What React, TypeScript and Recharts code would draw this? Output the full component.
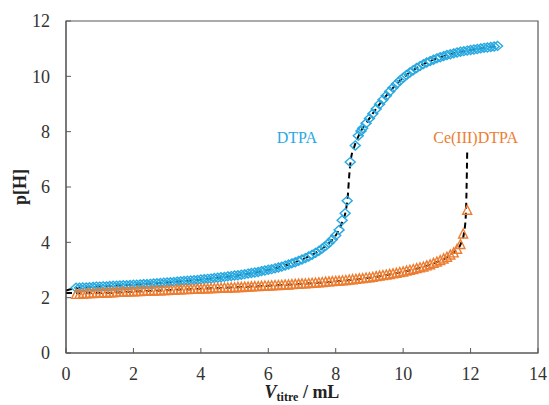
import React from "react";
import {
  ComposedChart,
  Line,
  Scatter,
  XAxis,
  YAxis,
  ReferenceArea,
  ReferenceDot,
} from "recharts";

// experimental points, DTPA (blue diamonds)
const dtpaVol = [
  0.3, 0.4, 0.5, 0.6, 0.7, 0.8, 0.9, 1.0, 1.1, 1.2, 1.3, 1.4, 1.5, 1.6, 1.7,
  1.8, 1.9, 2.0, 2.1, 2.2, 2.3, 2.4, 2.5, 2.6, 2.7, 2.8, 2.9, 3.0, 3.1, 3.2,
  3.3, 3.4, 3.5, 3.6, 3.7, 3.8, 3.9, 4.0, 4.1, 4.2, 4.3, 4.4, 4.5, 4.6, 4.7,
  4.8, 4.9, 5.0, 5.1, 5.2, 5.3, 5.4, 5.5, 5.6, 5.7, 5.8, 5.9, 6.0, 6.1, 6.2,
  6.3, 6.4, 6.5, 6.6, 6.7, 6.8, 6.9, 7.0, 7.1, 7.2, 7.3, 7.4, 7.5, 7.6, 7.7,
  7.8, 7.9, 8.0, 8.1, 8.19, 8.28, 8.34, 8.43, 8.58, 8.67, 8.75, 8.8, 8.9, 9.0,
  9.1, 9.2, 9.3, 9.4, 9.5, 9.6, 9.7, 9.8, 9.9, 10.0, 10.1, 10.2, 10.3, 10.4,
  10.5, 10.6, 10.7, 10.8, 10.9, 11.0, 11.1, 11.2, 11.3, 11.4, 11.5, 11.6,
  11.7, 11.8, 11.9, 12.0, 12.1, 12.2, 12.3, 12.4, 12.5, 12.6, 12.7, 12.8,
];
const dtpaPH = [
  2.36, 2.36, 2.37, 2.37, 2.38, 2.39, 2.4, 2.4, 2.41, 2.41, 2.42, 2.43, 2.43,
  2.44, 2.45, 2.45, 2.46, 2.47, 2.47, 2.48, 2.49, 2.49, 2.5, 2.51, 2.52, 2.53,
  2.54, 2.55, 2.56, 2.57, 2.58, 2.59, 2.6, 2.61, 2.62, 2.63, 2.64, 2.66, 2.67,
  2.68, 2.69, 2.71, 2.72, 2.74, 2.75, 2.77, 2.78, 2.8, 2.81, 2.83, 2.85, 2.87,
  2.89, 2.91, 2.93, 2.96, 2.98, 3.01, 3.03, 3.06, 3.09, 3.12, 3.16, 3.2, 3.24,
  3.28, 3.33, 3.38, 3.43, 3.49, 3.55, 3.62, 3.69, 3.78, 3.87, 3.98, 4.1, 4.25,
  4.45, 4.8, 5.05, 5.5, 6.9, 7.5, 7.85, 8.02, 8.12, 8.3, 8.48, 8.65, 8.82,
  8.99, 9.15, 9.3, 9.45, 9.59, 9.72, 9.84, 9.95, 10.05, 10.14, 10.22, 10.3,
  10.37, 10.44, 10.5, 10.55, 10.6, 10.65, 10.69, 10.73, 10.77, 10.8, 10.83,
  10.86, 10.89, 10.91, 10.93, 10.95, 10.97, 10.99, 11.01, 11.03, 11.04, 11.06,
  11.08, 11.1,
];

// experimental points, Ce(III)DTPA (orange triangles)
const ceVol = [
  0.3, 0.4, 0.5, 0.6, 0.7, 0.8, 0.9, 1.0, 1.1, 1.2, 1.3, 1.4, 1.5, 1.6, 1.7,
  1.8, 1.9, 2.0, 2.1, 2.2, 2.3, 2.4, 2.5, 2.6, 2.7, 2.8, 2.9, 3.0, 3.1, 3.2,
  3.3, 3.4, 3.5, 3.6, 3.7, 3.8, 3.9, 4.0, 4.1, 4.2, 4.3, 4.4, 4.5, 4.6, 4.7,
  4.8, 4.9, 5.0, 5.1, 5.2, 5.3, 5.4, 5.5, 5.6, 5.7, 5.8, 5.9, 6.0, 6.1, 6.2,
  6.3, 6.4, 6.5, 6.6, 6.7, 6.8, 6.9, 7.0, 7.1, 7.2, 7.3, 7.4, 7.5, 7.6, 7.7,
  7.8, 7.9, 8.0, 8.1, 8.2, 8.3, 8.4, 8.5, 8.6, 8.7, 8.8, 8.9, 9.0, 9.1, 9.2,
  9.3, 9.4, 9.5, 9.6, 9.7, 9.8, 9.9, 10.0, 10.1, 10.2, 10.3, 10.4, 10.5, 10.6,
  10.7, 10.8, 10.9, 11.0, 11.1, 11.2, 11.3, 11.4, 11.5, 11.6, 11.7, 11.78,
  11.9,
];
const cePH = [
  2.12, 2.12, 2.13, 2.14, 2.15, 2.15, 2.16, 2.16, 2.17, 2.17, 2.18, 2.18, 2.19,
  2.19, 2.2, 2.2, 2.21, 2.21, 2.22, 2.22, 2.23, 2.23, 2.24, 2.24, 2.25, 2.25,
  2.26, 2.26, 2.27, 2.27, 2.28, 2.28, 2.29, 2.29, 2.3, 2.3, 2.31, 2.31, 2.32,
  2.32, 2.33, 2.33, 2.34, 2.34, 2.35, 2.35, 2.36, 2.36, 2.37, 2.37, 2.38, 2.38,
  2.39, 2.4, 2.4, 2.41, 2.42, 2.42, 2.43, 2.44, 2.44, 2.45, 2.46, 2.46, 2.47,
  2.48, 2.49, 2.5, 2.5, 2.51, 2.52, 2.53, 2.54, 2.55, 2.56, 2.57, 2.58, 2.59,
  2.6, 2.61, 2.62, 2.64, 2.65, 2.66, 2.68, 2.69, 2.71, 2.72, 2.74, 2.76, 2.78,
  2.8, 2.82, 2.84, 2.86, 2.88, 2.91, 2.93, 2.96, 2.99, 3.02, 3.05, 3.08, 3.11,
  3.15, 3.19, 3.24, 3.29, 3.34, 3.4, 3.46, 3.54, 3.62, 3.75, 3.92, 4.3, 5.16,
];

// model curves (black dashed)
const dtpaFitVol = [
  0, 0.3, 1, 2, 3, 4, 5, 6, 6.5, 7, 7.5, 7.8, 8.0, 8.2, 8.3, 8.36, 8.4, 8.45,
  8.55, 8.7, 9.0, 9.5, 10, 10.5, 11, 11.5, 12, 12.8,
];
const dtpaFitPH = [
  2.26, 2.34, 2.4, 2.47, 2.55, 2.65, 2.79, 3.0, 3.16, 3.38, 3.69, 3.97, 4.25,
  4.75, 5.15, 5.7, 6.4, 7.0, 7.45, 7.9, 8.48, 9.3, 9.95, 10.37, 10.65, 10.83,
  10.95, 11.1,
];
const ceFitVol = [
  0, 1, 2, 3, 4, 5, 6, 7, 8, 9, 10, 10.5, 11, 11.3, 11.5, 11.7, 11.8, 11.86,
  11.9,
];
const ceFitPH = [
  2.17, 2.17, 2.22, 2.27, 2.32, 2.37, 2.43, 2.5, 2.59, 2.72, 2.93, 3.08, 3.29,
  3.46, 3.64, 3.92, 4.3, 5.0, 7.26,
];

const xTicks = [0, 2, 4, 6, 8, 10, 12, 14];
const yTicks = [0, 2, 4, 6, 8, 10, 12];

const BLUE = "#27A9E1";
const ORANGE = "#ED7D31";
const AXIS = "#595959";
const FONT = "Liberation Serif, Times New Roman, serif";

const zip = (xs: number[], ys: number[]) =>
  xs.map((x, i) => ({ x, y: ys[i] }));

const dtpaData = zip(dtpaVol, dtpaPH);
const ceData = zip(ceVol, cePH);
const dtpaFit = zip(dtpaFitVol, dtpaFitPH);
const ceFit = zip(ceFitVol, ceFitPH);

const Diamond = (p: any) => {
  const { cx, cy } = p;
  return (
    <path
      d={`M${cx},${cy - 4.5} L${cx + 5},${cy} L${cx},${cy + 4.5} L${cx - 5},${cy} Z`}
      fill="none"
      stroke={BLUE}
      strokeWidth={1.4}
    />
  );
};

const Triangle = (p: any) => {
  const { cx, cy } = p;
  return (
    <path
      d={`M${cx},${cy - 5} L${cx + 4.5},${cy + 4} L${cx - 4.5},${cy + 4} Z`}
      fill="none"
      stroke={ORANGE}
      strokeWidth={1.4}
    />
  );
};

const YTick = (p: any) => {
  const { x, y, payload } = p;
  return (
    <g>
      <line x1={x + 16} x2={x + 21} y1={y} y2={y} stroke={AXIS} />
      <text
        x={x}
        y={y}
        dy="0.35em"
        textAnchor="end"
        fill="#333"
        fontSize={18}
        style={{ fontFamily: FONT }}
      >
        {payload.value}
      </text>
    </g>
  );
};

const XTick = (p: any) => {
  const { x, y, payload } = p;
  return (
    <g>
      <line x1={x} x2={x} y1={y - 14} y2={y - 19} stroke={AXIS} />
      <text
        x={x}
        y={y}
        dy="0.71em"
        textAnchor="middle"
        fill="#333"
        fontSize={18}
        style={{ fontFamily: FONT }}
      >
        {payload.value}
      </text>
    </g>
  );
};

const YLabel = (p: any) => {
  const { viewBox } = p;
  const cx = viewBox.x + 20;
  const cy = viewBox.y + viewBox.height / 2;
  return (
    <text
      x={cx}
      y={cy}
      transform={`rotate(-90, ${cx}, ${cy})`}
      textAnchor="middle"
      dy="0.35em"
      fontWeight="bold"
      fontSize={18}
      fill="#222"
      style={{ fontFamily: FONT }}
    >
      p[H]
    </text>
  );
};

const XLabel = (p: any) => {
  const { viewBox } = p;
  const cx = viewBox.x + viewBox.width / 2;
  const by = viewBox.y + 45;
  return (
    <text
      x={cx}
      y={by}
      textAnchor="middle"
      fontWeight="bold"
      fontSize={18}
      fill="#222"
      style={{ fontFamily: FONT }}
    >
      <tspan fontStyle="italic">V</tspan>
      <tspan fontSize={12} dy={3}>
        titre
      </tspan>
      <tspan dy={-3}> / mL</tspan>
    </text>
  );
};

const NoteLabel = (text: string, color: string) => (p: any) => {
  const { viewBox } = p;
  const cx = viewBox.x + (viewBox.width || 0) / 2;
  const cy = viewBox.y + (viewBox.height || 0) / 2;
  return (
    <text
      x={cx}
      y={cy}
      dy="0.35em"
      textAnchor="middle"
      fill={color}
      fontSize={16}
      style={{ fontFamily: FONT }}
    >
      {text}
    </text>
  );
};

export default function App() {
  return (
    <div style={{ position: "absolute", left: 0, top: 0 }}>
      <ComposedChart
        width={549}
        height={405}
        margin={{ top: 21, right: 11, bottom: 0, left: 0 }}
      >
        <XAxis
          type="number"
          dataKey="x"
          domain={[0, 14]}
          ticks={xTicks}
          allowDataOverflow
          stroke={AXIS}
          tickSize={0}
          tickMargin={14}
          tickLine={false}
          tick={<XTick />}
          height={52}
          label={<XLabel />}
        />
        <YAxis
          type="number"
          dataKey="y"
          domain={[0, 12]}
          ticks={yTicks}
          allowDataOverflow
          stroke={AXIS}
          tickSize={0}
          tickMargin={16}
          tickLine={false}
          tick={<YTick />}
          width={66}
          label={<YLabel />}
        />
        <ReferenceArea
          x1={0}
          x2={14}
          y1={0}
          y2={12}
          fill="none"
          stroke={AXIS}
          strokeWidth={1.2}
          ifOverflow="visible"
        />
        <Scatter
          data={dtpaData}
          dataKey="y"
          shape={<Diamond />}
          isAnimationActive={false}
        />
        <Scatter
          data={ceData}
          dataKey="y"
          shape={<Triangle />}
          isAnimationActive={false}
        />
        <Line
          data={dtpaFit}
          dataKey="y"
          type="monotone"
          stroke="#000"
          strokeWidth={2}
          strokeDasharray="6 4"
          dot={false}
          isAnimationActive={false}
        />
        <Line
          data={ceFit}
          dataKey="y"
          type="monotone"
          stroke="#000"
          strokeWidth={2}
          strokeDasharray="6 4"
          dot={false}
          isAnimationActive={false}
        />
        <ReferenceDot
          x={6.85}
          y={7.78}
          r={0}
          label={NoteLabel("DTPA", BLUE)}
        />
        <ReferenceDot
          x={12.15}
          y={7.78}
          r={0}
          label={NoteLabel("Ce(III)DTPA", ORANGE)}
        />
      </ComposedChart>
    </div>
  );
}
